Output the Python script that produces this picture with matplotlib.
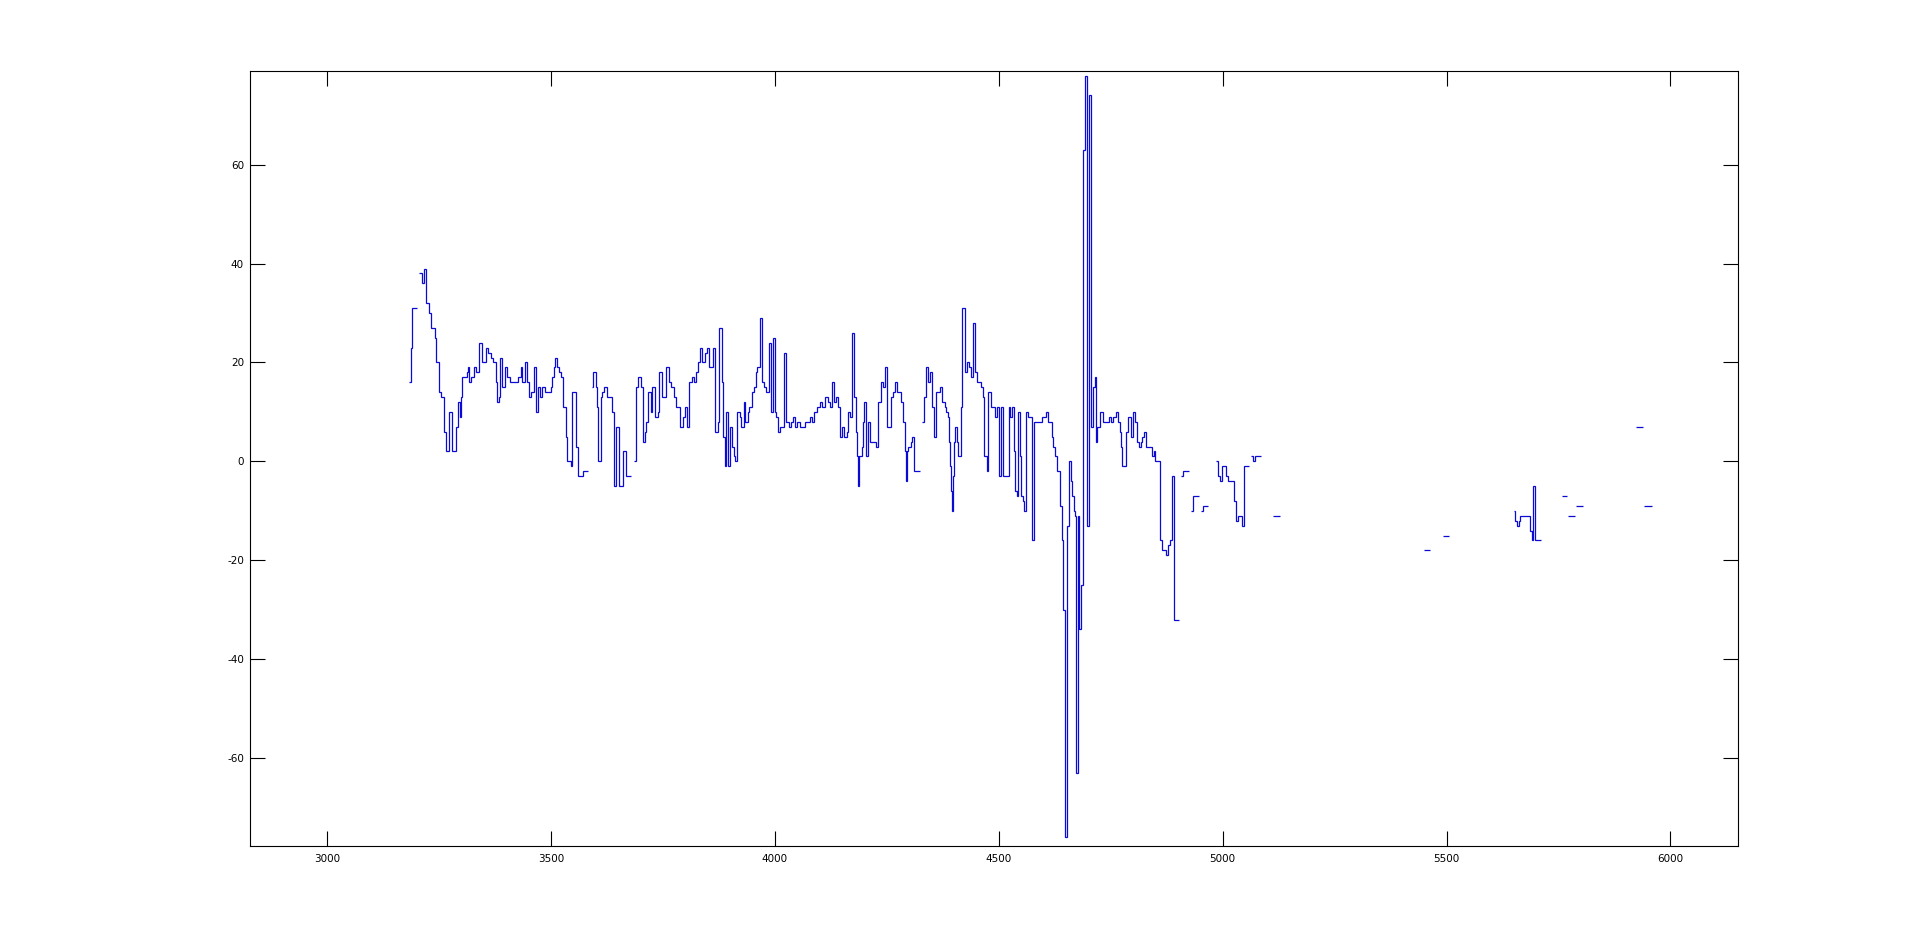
import numpy as np
import matplotlib
matplotlib.use("Agg")
import matplotlib.pyplot as plt

plt.rcParams['axes.unicode_minus'] = False

# each run: edges (one more than values), values held until next edge
seg_a_x = [3183, 3188, 3190, 3200]
seg_a_y = [16, 23, 31]

seg_b_x = [3206, 3211, 3217, 3222, 3227, 3232, 3240, 3243, 3251, 3254,
           3262, 3266, 3273, 3278, 3288, 3292, 3296, 3300, 3302, 3312,
           3315, 3318, 3321, 3328, 3333, 3339, 3345, 3355, 3360, 3367,
           3371, 3377, 3379, 3384, 3386, 3391, 3398, 3402, 3408, 3427,
           3432, 3436, 3441, 3446, 3451, 3455, 3463, 3467, 3472, 3476,
           3481, 3487, 3499, 3503, 3506, 3510, 3514, 3519, 3523, 3528,
           3533, 3535, 3544, 3548, 3557, 3561, 3572, 3583]
seg_b_y = [38, 36, 39, 32, 30, 27, 25, 20, 14, 13,
           6, 2, 10, 2, 7, 12, 9, 13, 17, 18,
           19, 16, 17, 19, 18, 24, 20, 23, 22, 21,
           20, 16, 12, 13, 21, 15, 19, 17, 16, 17,
           19, 16, 20, 16, 13, 14, 19, 10, 15, 13,
           15, 14, 15, 17, 19, 21, 19, 18, 17, 11,
           5, 0, -1, 14, 3, -3, -2]

seg_c_x = [3591, 3594, 3600, 3602, 3605, 3611, 3614, 3619, 3626, 3637,
           3641, 3646, 3652, 3661, 3667, 3678]
seg_c_y = [15, 18, 15, 11, 0, 13, 14, 15, 13, 10,
           -5, 7, -5, 2, -3]

seg_d_x = [3686, 3691, 3695, 3701, 3706, 3710, 3713, 3717, 3723, 3726,
           3732, 3738, 3742, 3748, 3758, 3764, 3769, 3774, 3779, 3788,
           3795, 3799, 3804, 3809, 3814, 3820, 3824, 3829, 3833, 3838,
           3843, 3848, 3853, 3862, 3867, 3872, 3876, 3881, 3884, 3888,
           3892, 3896, 3899, 3905, 3908, 3912, 3916, 3922, 3925, 3930,
           3934, 3939, 3943, 3948, 3953, 3957, 3960, 3966, 3971, 3975,
           3981, 3986, 3991, 3996, 4000, 4003, 4006, 4011, 4021, 4025,
           4032, 4036, 4041, 4046, 4050, 4056, 4067, 4078, 4082, 4088,
           4095, 4100, 4106, 4111, 4119, 4123, 4127, 4132, 4136, 4140,
           4145, 4150, 4154, 4160, 4163, 4167, 4172, 4177, 4181, 4184,
           4186, 4189, 4194, 4197, 4200, 4203, 4208, 4212, 4225, 4230,
           4236, 4242, 4246, 4250, 4259, 4264, 4269, 4273, 4282, 4286,
           4290, 4292, 4294, 4298, 4303, 4306, 4310, 4325]
seg_d_y = [0, 15, 17, 15, 4, 6, 8, 14, 10, 15,
           9, 10, 18, 13, 19, 16, 15, 13, 11, 7,
           9, 11, 7, 16, 17, 16, 18, 20, 23, 20,
           22, 23, 19, 23, 6, 8, 27, 16, 5, -1,
           10, -1, 7, 3, 1, 0, 10, 9, 7, 12,
           8, 10, 11, 14, 15, 18, 19, 29, 16, 15,
           14, 24, 10, 25, 10, 9, 6, 7, 22, 8,
           7, 8, 9, 7, 8, 7, 8, 9, 8, 10,
           11, 12, 11, 13, 12, 11, 16, 12, 13, 11,
           5, 7, 5, 6, 10, 9, 26, 13, 6, 1,
           -5, 1, 3, 8, 12, 1, 8, 4, 3, 12,
           16, 15, 19, 7, 13, 14, 16, 14, 12, 8,
           2, -4, 2, 3, 4, 5, -2]

seg_e_x = [4329, 4334, 4338, 4342, 4346, 4351, 4355, 4360, 4368, 4373,
           4379, 4383, 4387, 4389, 4391, 4394, 4396, 4398, 4400, 4403,
           4407, 4410, 4415, 4419, 4424, 4428, 4433, 4437, 4442, 4448,
           4451, 4460, 4465, 4468, 4473, 4477, 4482, 4491, 4495, 4500,
           4506, 4509, 4522, 4525, 4529, 4534, 4537, 4541, 4544, 4547,
           4550, 4554, 4556, 4561, 4565, 4574, 4578, 4597, 4606, 4610,
           4618, 4621, 4626, 4630, 4636, 4641, 4643, 4647, 4649, 4652,
           4657, 4662, 4664, 4667, 4671, 4673, 4677, 4680, 4683, 4688,
           4692, 4697, 4701, 4706, 4710, 4714, 4717, 4720, 4725, 4732,
           4746, 4751, 4756, 4761, 4766, 4770, 4772, 4776, 4785, 4788,
           4796, 4799, 4805, 4809, 4814, 4817, 4820, 4824, 4828, 4842,
           4846, 4850, 4860, 4864, 4874, 4878, 4883, 4886, 4891, 4902]
seg_e_y = [8, 13, 19, 16, 18, 11, 5, 14, 15, 12,
           11, 10, 9, 4, -1, -6, -10, -3, 4, 7,
           4, 1, 11, 31, 18, 20, 19, 17, 28, 18,
           16, 15, 13, 1, -2, 14, 11, 9, 11, -3,
           11, -3, 11, 9, 11, 2, -6, -7, 10, 1,
           -7, -8, -10, 10, 9, -16, 8, 9, 10, 8,
           5, 3, 1, -2, -9, -16, -30, -43, -76, -13,
           0, -4, -7, -10, -11, -63, -11, -34, -25, 63,
           78, -13, 74, 7, 15, 17, 4, 7, 10, 8,
           9, 8, 9, 10, 8, 6, 3, -1, 6, 9,
           5, 10, 8, 4, 3, 4, 5, 6, 3, 1,
           2, 0, -16, -18, -19, -17, -16, -3, -32]

seg_f_x = [4907, 4911, 4924]
seg_f_y = [-3, -2]
seg_g_x = [4930, 4933, 4947]
seg_g_y = [-10, -7]
seg_h_x = [4952, 4956, 4967]
seg_h_y = [-10, -9]
seg_i_x = [4985, 4989, 4994, 4999, 5008, 5011, 5025, 5029, 5034, 5043,
           5047, 5058]
seg_i_y = [0, -3, -4, -1, -3, -4, -8, -12, -11, -13, -1]
seg_j_x = [5064, 5067, 5072, 5086]
seg_j_y = [1, 0, 1]
seg_k_x = [5113, 5129]
seg_k_y = [-11]
seg_l_x = [5450, 5463]
seg_l_y = [-18]
seg_m_x = [5493, 5506]
seg_m_y = [-15]
seg_n_x = [5650, 5653, 5657, 5661, 5665, 5686, 5690, 5694, 5698, 5712]
seg_n_y = [-10, -12, -13, -12, -11, -14, -16, -5, -16]
seg_o_x = [5757, 5769]
seg_o_y = [-7]
seg_p_x = [5772, 5787]
seg_p_y = [-11]
seg_q_x = [5790, 5805]
seg_q_y = [-9]
seg_r_x = [5924, 5938]
seg_r_y = [7]
seg_s_x = [5941, 5958]
seg_s_y = [-9]

segments = [(seg_a_x, seg_a_y), (seg_b_x, seg_b_y), (seg_c_x, seg_c_y),
            (seg_d_x, seg_d_y), (seg_e_x, seg_e_y), (seg_f_x, seg_f_y),
            (seg_g_x, seg_g_y), (seg_h_x, seg_h_y), (seg_i_x, seg_i_y),
            (seg_j_x, seg_j_y), (seg_k_x, seg_k_y), (seg_l_x, seg_l_y),
            (seg_m_x, seg_m_y), (seg_n_x, seg_n_y), (seg_o_x, seg_o_y),
            (seg_p_x, seg_p_y), (seg_q_x, seg_q_y), (seg_r_x, seg_r_y),
            (seg_s_x, seg_s_y)]

x_ticks = [3000, 3500, 4000, 4500, 5000, 5500, 6000]
y_ticks = [-60, -40, -20, 0, 20, 40, 60]

fig = plt.figure(figsize=(19.2, 9.5), dpi=100)
ax = fig.add_axes([0.13, 0.11, 0.775, 0.815])

for sx, sy in segments:
    ax.stairs(sy, sx, baseline=None, color='#0a0ad2', linewidth=0.9)

ax.set_xlim(2827, 6150)
ax.set_ylim(-77.7, 78.9)
ax.set_xticks(x_ticks)
ax.set_yticks(y_ticks)
ax.tick_params(direction='in', length=11, width=0.8, labelsize=7.5,
               top=True, right=True, colors='black')
ax.tick_params(axis='x', pad=6)
ax.tick_params(axis='y', pad=4)
for sp in ax.spines.values():
    sp.set_linewidth(0.8)

fig.savefig("out.png", dpi=100, facecolor='white')
